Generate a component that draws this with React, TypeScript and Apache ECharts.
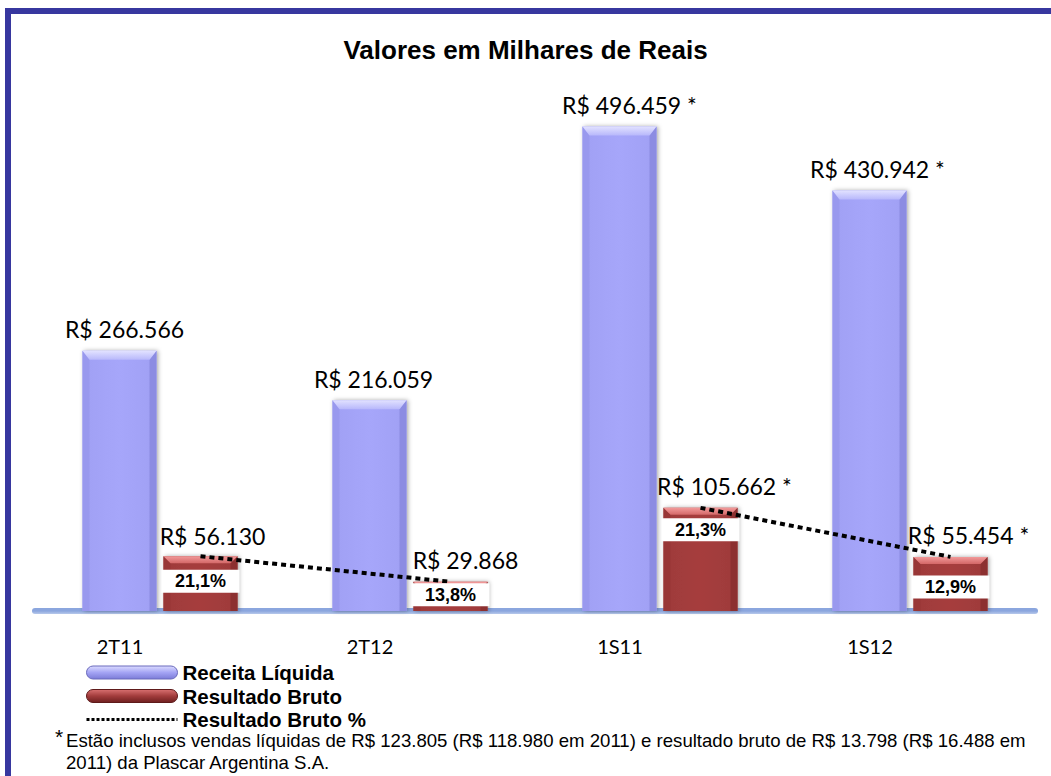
import React, { useEffect, useRef } from 'react';
import * as echarts from 'echarts';

// ---- data ----
const categories = ['2T11', '2T12', '1S11', '1S12'];
const receitaLiquida = [266566, 216059, 496459, 430942];
const resultadoBruto = [56130, 29868, 105662, 55454];
const resultadoBrutoPct = [21.1, 13.8, 21.3, 12.9];
const comAsterisco = [false, false, true, true];
const segmentosLinha = [[0, 1], [2, 3]];
const titulo = 'Valores em Milhares de Reais';
const notaLinha1 = 'Estão inclusos vendas líquidas de R$ 123.805 (R$ 118.980 em 2011) e resultado bruto de R$ 13.798 (R$ 16.488 em';
const notaLinha2 = '2011) da Plascar Argentina S.A.';

// ---- style constants ----
const BAR_FRAC = 0.296; // bar width / category band
const GAP_FRAC = 0.028; // gap between the two bars / category band
const OFF = GAP_FRAC / 2 + BAR_FRAC / 2;
const receitaLabelDx = [5, 4, 10, 8];
const resultadoLabelDx = [12, 15, 24, 18];
const resultadoLabelDist = [9, 10, 10, 10];
const pctLabelDist = [13, 1, 10, 18];

const fmtBRL = (v: number) => 'R$ ' + String(v).replace(/\B(?=(\d{3})+(?!\d))/g, '.');
const fmtPct = (p: number) => p.toFixed(1).replace('.', ',') + '%';

const grad = (stops: [number, string][], horizontal = false) => ({
  type: 'linear',
  x: 0,
  y: 0,
  x2: horizontal ? 1 : 0,
  y2: horizontal ? 0 : 1,
  colorStops: stops.map(([offset, color]) => ({ offset, color })),
});

const receitaColors = {
  face: grad([[0, '#a0a0f4'], [0.5, '#a6a6fa'], [1, '#a0a0f4']], true),
  left: '#9999ee',
  right: '#8c8ce2',
  top: grad([[0, '#e2e2ff'], [1, '#b8b8fb']]),
};
const resultadoColors = {
  face: grad([[0, '#9e3a3a'], [0.5, '#a63e3e'], [1, '#9e3a3a']], true),
  left: '#983636',
  right: '#8c3030',
  top: grad([[0, '#f29a9a'], [1, '#d46868']]),
};

function makeRenderItem(side: number, colors: any, bevel: number, values: number[], dxs: number[], dists: number[]) {
  return (params: any, api: any) => {
    const i = api.value(0);
    const v = api.value(1);
    const base = api.coord([i, 0]);
    const top = api.coord([i, v]);
    const band = api.size([1, 0])[0];
    const bw = band * BAR_FRAC;
    const gap = band * GAP_FRAC;
    const cx = base[0] + side * (gap / 2 + bw / 2);
    const x0 = cx - bw / 2;
    const y0 = top[1];
    const h = base[1] - top[1];
    const b = Math.min(bevel, h / 3);
    const s = Math.min(7, bw / 8);
    const txt = fmtBRL(values[i]) + (comAsterisco[i] ? ' *' : '');
    return {
      type: 'group',
      children: [
        {
          type: 'rect',
          shape: { x: x0, y: y0, width: bw, height: h },
          style: {
            fill: colors.face,
            shadowBlur: 4,
            shadowOffsetX: 1.5,
            shadowColor: 'rgba(0,0,0,0.35)',
          },
          textContent: {
            type: 'text',
            style: {
              text: txt,
              fill: '#000',
              fontFamily: 'Lato',
              fontSize: 23,
            },
          },
          textConfig: { position: 'top', distance: dists[i], offset: [dxs[i], 0] },
        },
        {
          type: 'polygon',
          shape: { points: [[x0, y0], [x0 + s, y0 + b], [x0 + s, y0 + h], [x0, y0 + h]] },
          style: { fill: colors.left },
        },
        {
          type: 'polygon',
          shape: { points: [[x0 + bw, y0], [x0 + bw - s, y0 + b], [x0 + bw - s, y0 + h], [x0 + bw, y0 + h]] },
          style: { fill: colors.right },
        },
        {
          type: 'polygon',
          shape: { points: [[x0, y0], [x0 + bw, y0], [x0 + bw - s, y0 + b], [x0 + s, y0 + b]] },
          style: { fill: colors.top },
        },
      ],
    };
  };
}

const capsule = 'path://M6.5,0 H84.5 A6.5,6.5 0 0 1 84.5,13 H6.5 A6.5,6.5 0 0 1 6.5,0 Z';

export default function App() {
  const ref = useRef<HTMLDivElement>(null);
  useEffect(() => {
    if (!ref.current) return;
    const chart = echarts.init(ref.current, null, { renderer: 'svg' });
    const lineSeries = segmentosLinha.map((seg) => ({
      type: 'line',
      name: 'Resultado Bruto %',
      xAxisIndex: 1,
      yAxisIndex: 0,
      z: 5,
      symbol: 'circle',
      symbolSize: 1,
      itemStyle: { color: 'rgba(0,0,0,0)' },
      lineStyle: { color: '#000', width: 4, type: [5, 4], cap: 'butt' },
      label: {
        show: true,
        position: 'bottom',
        backgroundColor: '#fff',
        width: 78,
        height: 23,
        lineHeight: 23,
        align: 'center',
        color: '#000',
        fontFamily: 'Liberation Sans',
        fontWeight: 'bold',
        fontSize: 18,
      },
      data: seg.map((i) => ({
        value: [i + OFF, resultadoBruto[i]],
        label: { formatter: fmtPct(resultadoBrutoPct[i]), distance: pctLabelDist[i] },
      })),
    }));
    chart.setOption({
      animation: false,
      backgroundColor: '#fff',
      title: {
        text: titulo,
        left: 'center',
        top: 32,
        textStyle: { fontFamily: 'Liberation Sans', fontWeight: 'bold', fontSize: 26, color: '#000' },
      },
      legend: {
        left: 85,
        top: 662,
        padding: 0,
        orient: 'vertical',
        itemGap: 2.5,
        itemWidth: 91,
        itemHeight: 13,
        selectedMode: false,
        textStyle: { fontFamily: 'Liberation Sans', fontWeight: 'bold', fontSize: 20.5, lineHeight: 20, color: '#000' },
        data: [
          {
            name: 'Receita Líquida',
            icon: capsule,
            itemStyle: { color: grad([[0, '#dcdcff'], [0.5, '#a4a4f4'], [1, '#7c7cd8']]), borderColor: '#6a6abc', borderWidth: 1 },
          },
          {
            name: 'Resultado Bruto',
            icon: capsule,
            itemStyle: { color: grad([[0, '#d87070'], [0.5, '#a23c3c'], [1, '#6e2020']]), borderColor: '#5e1a1a', borderWidth: 1 },
          },
          {
            name: 'Resultado Bruto %',
            lineStyle: { color: '#000', width: 3, type: [3, 2] },
          },
        ],
      },
      grid: { left: 35, right: 16, top: 123, bottom: 165, outerBoundsMode: 'none' },
      xAxis: [
        {
          type: 'category',
          data: categories,
          offset: 3,
          axisTick: { show: false },
          axisLine: {
            lineStyle: {
              width: 6,
              color: { type: 'linear', x: 0, y: 611, x2: 0, y2: 617, global: true, colorStops: [{ offset: 0, color: '#8ba6de' }, { offset: 1, color: '#e4ebf8' }] },
            },
          },
          axisLabel: {
            color: '#000',
            fontFamily: 'Lato',
            fontSize: 20,
            margin: 22,
            padding: [0, 80, 0, 0],
          },
          splitLine: { show: false },
        },
        { type: 'value', min: -0.5, max: 3.5, show: false },
      ],
      yAxis: { type: 'value', min: 0, max: 500000, show: false },
      graphic: [
        {
          type: 'rect',
          z: -10,
          shape: { x: 8, y: 11, width: 1100, height: 900 },
          style: { fill: 'none', stroke: '#37379f', lineWidth: 6 },
        },
        { type: 'text', x: 55, y: 726, style: { text: '*', font: '21px "Liberation Sans"', fill: '#000' } },
        { type: 'text', x: 66, y: 731, style: { text: notaLinha1, font: '18.6px "Liberation Sans"', fill: '#000' } },
        { type: 'text', x: 66, y: 753, style: { text: notaLinha2, font: '18.6px "Liberation Sans"', fill: '#000' } },
      ],
      series: [
        {
          type: 'custom',
          name: 'Receita Líquida',
          z: 2,
          renderItem: makeRenderItem(-1, receitaColors, 9, receitaLiquida, receitaLabelDx, [10, 10, 10, 10]),
          encode: { x: 0, y: 1 },
          data: receitaLiquida.map((v, i) => [i, v]),
        },
        {
          type: 'custom',
          name: 'Resultado Bruto',
          z: 2,
          renderItem: makeRenderItem(1, resultadoColors, 7, resultadoBruto, resultadoLabelDx, resultadoLabelDist),
          encode: { x: 0, y: 1 },
          data: resultadoBruto.map((v, i) => [i, v]),
        },
        ...lineSeries,
      ],
    });
    return () => chart.dispose();
  }, []);
  return (
    <div
      ref={ref}
      style={{ position: 'absolute', left: 0, top: 0, width: 1051, height: 776, background: '#fff' }}
    />
  );
}
